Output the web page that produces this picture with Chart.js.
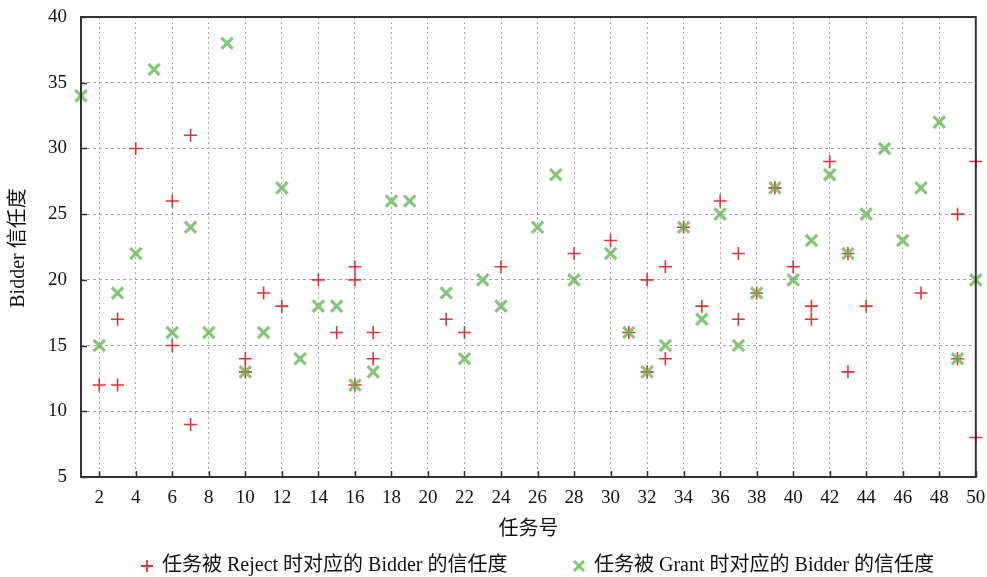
<!DOCTYPE html>
<html>
<head>
<meta charset="utf-8">
<script src="https://cdn.jsdelivr.net/npm/chart.js@4.4.1/dist/chart.umd.min.js"></script>
<style>
  html, body { margin: 0; padding: 0; background: #fff; }
  #wrap { width: 987px; height: 577px; position: relative; }
</style>
</head>
<body>
<div id="wrap"><canvas id="c" width="987" height="577"></canvas></div>
<script>
// ---- data ----
const rejectTasks  = [2, 3, 3, 4, 6, 6, 7, 7, 10, 10, 11, 12, 14, 15, 16, 16, 16, 17, 17, 21, 22, 24, 28, 30, 31, 32, 32, 33, 33, 34, 35, 36, 37, 37, 38, 39, 40, 41, 41, 42, 43, 43, 44, 47, 49, 49, 50, 50];
const rejectValues = [12, 12, 17, 30, 26, 15, 31, 9, 14, 13, 19, 18, 20, 16, 21, 20, 12, 16, 14, 17, 16, 21, 22, 23, 16, 20, 13, 21, 14, 24, 18, 26, 22, 17, 19, 27, 21, 18, 17, 29, 22, 13, 18, 19, 25, 14, 29, 8];
const grantTasks   = [1, 2, 3, 4, 5, 6, 7, 8, 9, 10, 11, 12, 13, 14, 15, 16, 17, 18, 19, 21, 22, 23, 24, 26, 27, 28, 30, 31, 32, 33, 34, 35, 36, 37, 38, 39, 40, 41, 42, 43, 44, 45, 46, 47, 48, 49, 50];
const grantValues  = [34, 15, 19, 22, 36, 16, 24, 16, 38, 13, 16, 27, 14, 18, 18, 12, 13, 26, 26, 19, 14, 20, 18, 24, 28, 20, 22, 16, 13, 15, 24, 17, 25, 15, 19, 27, 20, 23, 28, 22, 25, 30, 23, 27, 32, 14, 20];
const xTickValues  = [2, 4, 6, 8, 10, 12, 14, 16, 18, 20, 22, 24, 26, 28, 30, 32, 34, 36, 38, 40, 42, 44, 46, 48, 50];
const yTickValues  = [5, 10, 15, 20, 25, 30, 35, 40];
const rejectLabel = '任务被 Reject 时对应的 Bidder 的信任度';
const grantLabel  = '任务被 Grant 时对应的 Bidder 的信任度';
const xTitle = '任务号';
const yTitle = 'Bidder 信任度';

const FONT = "'Liberation Serif', 'Noto Sans CJK SC', serif";
const RED = 'rgb(222,52,52)';
const GREEN = 'rgba(100,182,82,0.78)';

const toPts = (xs, ys) => xs.map((x, i) => ({ x: x, y: ys[i] }));

const framePlugin = {
  id: 'frame',
  afterDatasetsDraw(chart) {
    const { ctx, chartArea: a, scales } = chart;
    ctx.save();
    ctx.strokeStyle = '#333';
    ctx.lineWidth = 1.5;
    ctx.beginPath();
    xTickValues.forEach(v => {
      const px = Math.round(scales.x.getPixelForValue(v)) + 0.5;
      ctx.moveTo(px, a.bottom);
      ctx.lineTo(px, a.bottom - 6);
    });
    yTickValues.forEach(v => {
      const py = Math.round(scales.y.getPixelForValue(v)) + 0.5;
      ctx.moveTo(a.left, py);
      ctx.lineTo(a.left + 6, py);
    });
    ctx.stroke();
    ctx.strokeStyle = '#333';
    ctx.lineWidth = 2;
    ctx.strokeRect(a.left, a.top, a.right - a.left, a.bottom - a.top);
    ctx.restore();
  },
  afterDraw(chart) {
    const { ctx, chartArea: a } = chart;
    ctx.save();
    ctx.fillStyle = '#111';
    ctx.font = '20px ' + FONT;
    ctx.textAlign = 'center';
    ctx.textBaseline = 'middle';
    ctx.fillText(xTitle, (a.left + a.right) / 2, 530);
    ctx.save();
    ctx.translate(19, 248);
    ctx.rotate(-Math.PI / 2);
    ctx.fillText(yTitle, 0, 0);
    ctx.restore();
    const ds = chart.data.datasets;
    const items = [
      { x: 147, label: ds[0].label, type: 'plus', color: RED },
      { x: 579, label: ds[1].label, type: 'x', color: GREEN }
    ];
    const y = 566;
    items.forEach(it => {
      ctx.strokeStyle = it.color;
      ctx.beginPath();
      if (it.type === 'plus') {
        ctx.lineWidth = 1.8;
        ctx.moveTo(it.x - 6, y); ctx.lineTo(it.x + 6, y);
        ctx.moveTo(it.x, y - 6); ctx.lineTo(it.x, y + 6);
      } else {
        ctx.lineWidth = 3;
        ctx.moveTo(it.x - 5, y - 5); ctx.lineTo(it.x + 5, y + 5);
        ctx.moveTo(it.x + 5, y - 5); ctx.lineTo(it.x - 5, y + 5);
      }
      ctx.stroke();
      ctx.fillStyle = '#111';
      ctx.textAlign = 'left';
      ctx.fillText(it.label, it.x + 15, y);
    });
    ctx.restore();
  }
};

new Chart(document.getElementById('c'), {
  type: 'scatter',
  data: {
    datasets: [
      {
        label: rejectLabel,
        data: toPts(rejectTasks, rejectValues),
        pointStyle: 'cross',
        pointRadius: 6.5,
        pointHoverRadius: 6.5,
        pointBorderWidth: 1.6,
        borderColor: RED,
        backgroundColor: RED,
        order: 2,
        clip: false
      },
      {
        label: grantLabel,
        data: toPts(grantTasks, grantValues),
        pointStyle: 'crossRot',
        pointRadius: 8,
        pointHoverRadius: 8,
        pointBorderWidth: 3.2,
        borderColor: GREEN,
        backgroundColor: GREEN,
        order: 1,
        clip: false
      }
    ]
  },
  options: {
    responsive: false,
    animation: false,
    events: [],
    layout: { padding: { left: 0, right: 10, top: 17, bottom: 0 } },
    plugins: {
      legend: { display: false },
      tooltip: { enabled: false }
    },
    scales: {
      x: {
        type: 'linear',
        min: 1,
        max: 50,
        afterBuildTicks: s => { s.ticks = xTickValues.map(v => ({ value: v })); },
        afterFit: s => { s.height = 100; s.paddingLeft = 0; s.paddingRight = 0; },
        ticks: {
          color: '#111',
          font: { family: FONT, size: 19 },
          padding: 10,
          maxRotation: 0,
          autoSkip: false
        },
        grid: {
          color: '#a5a5a5',
          lineWidth: 1,
          drawTicks: false
        },
        border: { display: false, dash: [2, 3] }
      },
      y: {
        type: 'linear',
        min: 5,
        max: 40,
        afterBuildTicks: s => { s.ticks = yTickValues.map(v => ({ value: v })); },
        afterFit: s => { s.width = 81; s.paddingTop = 0; s.paddingBottom = 0; },
        ticks: {
          color: '#111',
          font: { family: FONT, size: 19 },
          padding: 14
        },
        grid: {
          color: '#a5a5a5',
          lineWidth: 1,
          drawTicks: false
        },
        border: { display: false, dash: [3, 3] }
      }
    }
  },
  plugins: [framePlugin]
});
</script>
</body>
</html>
